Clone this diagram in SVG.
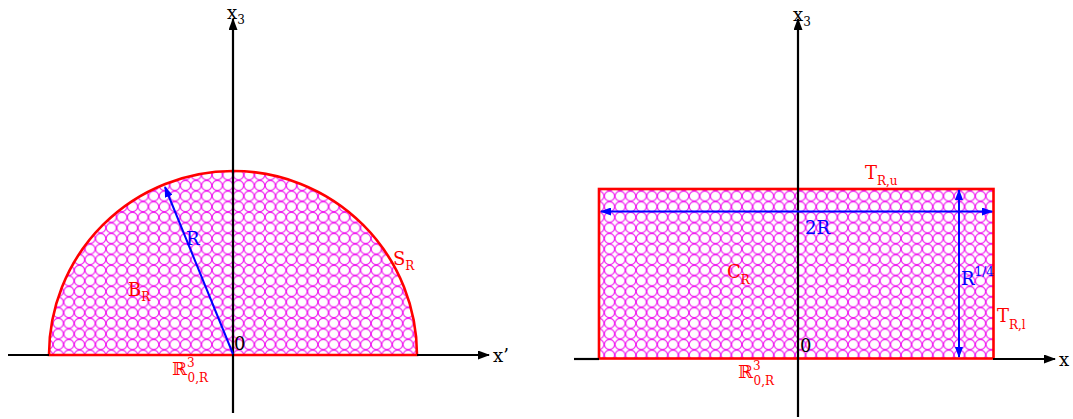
<svg xmlns="http://www.w3.org/2000/svg" width="1073" height="419" viewBox="0 0 1073 419">
<style>
.t{font-family:"DejaVu Serif","Liberation Serif",serif;font-size:18px}
.s{font-size:12px}
.red{fill:#ff0000}
.blue{fill:#0000ff}
.blk{fill:#000}
.shape{fill:url(#hatch);stroke:#ff0000;stroke-width:2.6}
.axis{stroke:#000;stroke-width:2.2;fill:none}
.bl{stroke:#0000ff;stroke-width:2;fill:none}
</style>
<defs>
<pattern id="hatch" patternUnits="userSpaceOnUse" width="10.6" height="10.6" x="0" y="0">
<rect width="10.6" height="10.6" fill="#fff"/>
<circle cx="5.3" cy="5.3" r="5.0" fill="none" stroke="#f020f0" stroke-width="1.1"/>
</pattern>
<marker id="ak" markerUnits="userSpaceOnUse" markerWidth="12" markerHeight="9" refX="11" refY="4.5" orient="auto">
<path d="M0,0 L12,4.5 L0,9 z" fill="#000"/>
</marker>
<marker id="ab" markerUnits="userSpaceOnUse" markerWidth="11" markerHeight="8" refX="10" refY="4" orient="auto-start-reverse">
<path d="M0,0 L11,4 L0,8 z" fill="#0000ff"/>
</marker>
</defs>
<rect width="1073" height="419" fill="#fff"/>

<g id="half-ball-BR">
<path class="shape" d="M49,355 A184,184 0 0 1 417,355 Z"/>
</g>
<g id="cylinder-CR">
<rect class="shape" x="599" y="189" width="394.5" height="169.5"/>
</g>

<g id="connectors">
<line class="axis" x1="8" y1="355" x2="49" y2="355"/>
<line class="axis" x1="417" y1="355" x2="489" y2="355" marker-end="url(#ak)"/>
<line class="axis" x1="233" y1="413" x2="233" y2="19" marker-end="url(#ak)"/>
<line class="bl" x1="233" y1="354" x2="165" y2="187" marker-end="url(#ab)"/>

<line class="axis" x1="574" y1="359" x2="599" y2="359"/>
<line class="axis" x1="993" y1="359" x2="1055" y2="359" marker-end="url(#ak)"/>
<line class="axis" x1="798" y1="417" x2="798" y2="19" marker-end="url(#ak)"/>
<line class="bl" x1="601" y1="211.5" x2="992" y2="211.5" marker-start="url(#ab)" marker-end="url(#ab)"/>
<line class="bl" x1="959" y1="190" x2="959" y2="357" marker-start="url(#ab)" marker-end="url(#ab)"/>
</g>

<g id="labels-left" class="t">
<text class="blk" x="227" y="19">x<tspan class="s" dy="5">3</tspan></text>
<text class="blk" x="493" y="362">x’</text>
<text class="blk" x="234" y="350">0</text>
<text class="red" x="172" y="375">ℝ<tspan class="s" dy="-8">3</tspan><tspan class="s" dx="-7" dy="15">0,R</tspan></text>
<text class="red" x="128" y="296">B<tspan class="s" dy="5">R</tspan></text>
<text class="red" x="393" y="265">S<tspan class="s" dy="5">R</tspan></text>
<text class="blue" x="186" y="245">R</text>
</g>

<g id="labels-right" class="t">
<text class="blk" x="793" y="21">x<tspan class="s" dy="5">3</tspan></text>
<text class="blk" x="1059" y="366">x</text>
<text class="blk" x="800" y="352">0</text>
<text class="red" x="738" y="378">ℝ<tspan class="s" dy="-8">3</tspan><tspan class="s" dx="-7" dy="15">0,R</tspan></text>
<text class="red" x="865" y="179">T<tspan class="s" dy="6">R,u</tspan></text>
<text class="blue" x="805" y="234">2R</text>
<text class="red" x="727" y="278">C<tspan class="s" dy="6">R</tspan></text>
<text class="blue" x="961" y="285">R<tspan class="s" dy="-9">1/4</tspan></text>
<text class="red" x="997" y="322">T<tspan class="s" dy="7">R,l</tspan></text>
</g>
</svg>
